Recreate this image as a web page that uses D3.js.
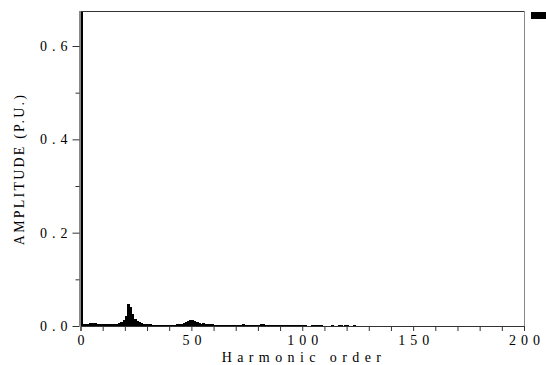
<!DOCTYPE html>
<html><head><meta charset="utf-8">
<script src="https://cdn.jsdelivr.net/npm/d3@7"></script>
<style>body{margin:0;background:#fff}svg{display:block}</style>
</head><body>
<svg id="c" width="546" height="365"></svg>
<script>
// Harmonic amplitudes (P.U.), orders 1..140
const amplitudes = [
 1.0, 0.004, 0.005, 0.004, 0.006, 0.007, 0.006, 0.004, 0.005, 0.004,
 0.005, 0.004, 0.004, 0.005, 0.004, 0.004, 0.005, 0.006, 0.008, 0.012,
 0.022, 0.047, 0.040, 0.026, 0.016, 0.011, 0.008, 0.006, 0.005, 0.005,
 0.004, 0.004, 0.003, 0.003, 0.002, 0.002, 0.003, 0.002, 0.002, 0.003,
 0.002, 0.003, 0.003, 0.004, 0.004, 0.005, 0.006, 0.008, 0.010, 0.012,
 0.013, 0.010, 0.008, 0.006, 0.005, 0.006, 0.005, 0.004, 0.005, 0.004,
 0.003, 0.003, 0.002, 0.003, 0.002, 0.002, 0.002, 0.003, 0.002, 0.002,
 0.002, 0.003, 0.003, 0.004, 0.003, 0.002, 0.002, 0.002, 0.003, 0.002,
 0.003, 0.004, 0.004, 0.003, 0.003, 0.003, 0.002, 0.002, 0.002, 0.002,
 0.002, 0.002, 0.002, 0.003, 0.002, 0.002, 0.002, 0.002, 0.002, 0.002,
 0.002, 0.002, 0.001, 0.001, 0.002, 0.003, 0.003, 0.003, 0.002, 0.001,
 0.001, 0.001, 0.001, 0.002, 0.001, 0.001, 0.002, 0.002, 0.001, 0.002,
 0.002, 0.001, 0.001, 0.002, 0.001, 0.001, 0.001, 0.001, 0.001, 0.001,
 0.001, 0, 0.001, 0.001, 0, 0.001, 0.001, 0, 0.001, 0.001
];
const orders = amplitudes.map((_, i) => i + 1);
const xTickLabels = [0, 50, 100, 150, 200];
const yTickLabels = [0.0, 0.2, 0.4, 0.6];
const xLabel = "Harmonic order";
const yLabel = "AMPLITUDE (P.U.)";

const L = 80.5, R = 524, T = 11, B = 326;
const FONT = '"Liberation Serif", serif';
const svg = d3.select("#c");
const x = d3.scaleLinear().domain([0, 200]).range([L, R]);
const y = d3.scaleLinear().domain([0, 0.6]).range([B, 46]);

svg.append("clipPath").attr("id", "clip").append("rect")
  .attr("x", L).attr("y", T).attr("width", R - L).attr("height", B - T);

svg.append("g").attr("clip-path", "url(#clip)").attr("shape-rendering", "crispEdges")
  .selectAll("rect").data(orders).join("rect")
  .attr("x", d => x(d - 1))
  .attr("width", d => x(d) - x(d - 1) + 0.6)
  .attr("y", (d, i) => y(amplitudes[i]))
  .attr("height", (d, i) => B - y(amplitudes[i]))
  .attr("fill", "#000");

// frame
svg.append("line").attr("x1", L).attr("x2", R).attr("y1", T + 0.5).attr("y2", T + 0.5).attr("stroke", "#333");
svg.append("line").attr("x1", R + 0.5).attr("x2", R + 0.5).attr("y1", T).attr("y2", B).attr("stroke", "#888");
svg.append("line").attr("x1", L - 0.5).attr("x2", L - 0.5).attr("y1", T).attr("y2", B).attr("stroke", "#888").attr("stroke-width", 2);

// x axis
const xAxis = d3.axisBottom(x).tickValues(d3.range(0, 201, 10)).tickSize(5)
  .tickFormat(d => xTickLabels.includes(d) ? d : "");
const gx = svg.append("g").attr("transform", `translate(0,${B})`).call(xAxis);
gx.select(".domain").attr("stroke", "#333");
gx.selectAll(".tick line").attr("stroke", "#333");
gx.selectAll("text").style("font-family", FONT).style("font-size", "14px")
  .style("letter-spacing", "5px").attr("fill", "#000").attr("y", 8).attr("dy", "0.75em")
  .attr("dx", "2.5px");

// y axis
const yAxis = d3.axisLeft(y).tickValues(d3.range(0, 0.61, 0.1)).tickSize(4)
  .tickFormat(d => yTickLabels.some(v => Math.abs(v - d) < 1e-9) ? d3.format(".1f")(d) : "");
const gy = svg.append("g").attr("transform", `translate(${L - 1},0)`).call(yAxis);
gy.select(".domain").remove();
gy.selectAll(".tick line").attr("stroke", "#333")
  .attr("x2", d => yTickLabels.some(v => Math.abs(v - d) < 1e-9) ? -7 : -4);
gy.selectAll("text").style("font-family", FONT).style("font-size", "14px")
  .style("letter-spacing", "5px").attr("fill", "#000").attr("x", -7);

svg.append("text").attr("x", 304).attr("y", 362).attr("text-anchor", "middle")
  .style("font-family", FONT).style("font-size", "14px").style("letter-spacing", "5.4px").text(xLabel);
svg.append("text").attr("transform", "translate(24,169) rotate(-90)").attr("text-anchor", "middle")
  .style("font-family", FONT).style("font-size", "14px").style("letter-spacing", "2.2px").text(yLabel);

// legend marker (truncated)
svg.append("rect").attr("x", 531).attr("y", 12).attr("width", 16).attr("height", 7).attr("fill", "#000");
</script>
</body></html>
